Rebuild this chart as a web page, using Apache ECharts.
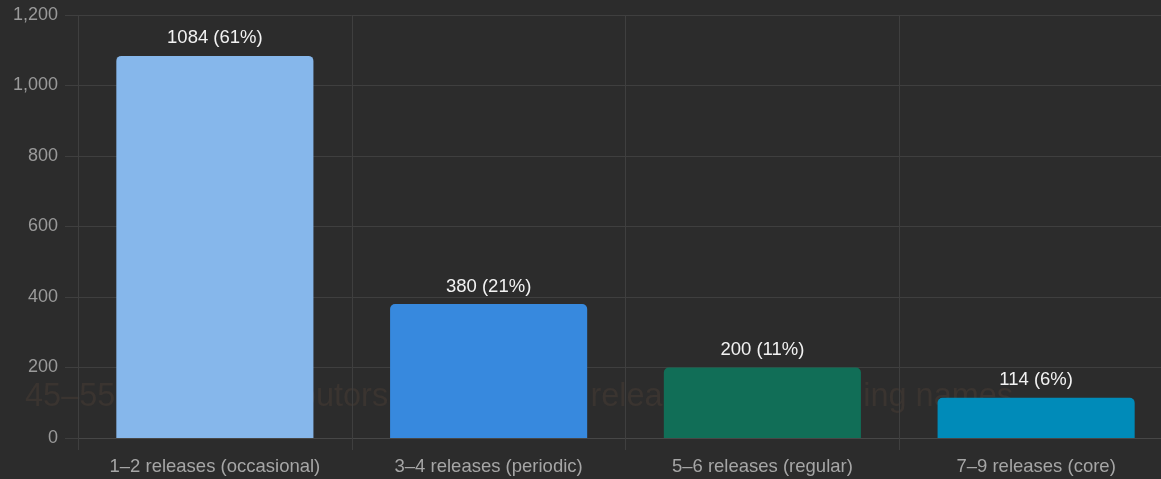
<!DOCTYPE html>
<html>
<head>
<meta charset="utf-8">
<script src="https://cdn.jsdelivr.net/npm/echarts@6/dist/echarts.min.js"></script>
<style>
html,body{margin:0;padding:0;background:#2c2c2c;overflow:hidden;width:1161px;height:479px;}
#chart{width:1173px;height:479px;}
</style>
</head>
<body>
<div id="chart"></div>
<script>
const categories = ['1–2 releases (occasional)', '3–4 releases (periodic)', '5–6 releases (regular)', '7–9 releases (core)'];
const counts = [1084, 380, 200, 114];
const barColors = ['#86b7eb', '#3789de', '#116e57', '#008bb9'];
const yTicks = { min: 0, max: 1200, interval: 200 };
const watermarkText = '45–55 active contributors across every releases, by matching names';

const total = counts.reduce((a, b) => a + b, 0);
const FONT = "'Helvetica Neue', Helvetica, Arial, 'Liberation Sans', sans-serif";

const chart = echarts.init(document.getElementById('chart'));
chart.setOption({
  backgroundColor: '#2c2c2c',
  animation: false,
  textStyle: { fontFamily: FONT },
  graphic: [{
    type: 'text',
    z: 0,
    left: 25,
    top: 381,
    style: {
      text: watermarkText,
      fill: '#3a3430',
      font: "32.5px 'Helvetica Neue', Helvetica, Arial, 'Liberation Sans', sans-serif"
    }
  }],
  grid: { left: 78, right: 0, top: 15, bottom: 41 },
  xAxis: {
    type: 'category',
    data: categories,
    axisLine: { show: true, lineStyle: { color: '#474747' } },
    axisTick: { show: true, interval: 0, length: 12, lineStyle: { color: '#3f3f3f' } },
    splitLine: { show: true, interval: 0, lineStyle: { color: '#3f3f3f' } },
    axisLabel: { interval: 0, color: '#a6a6a6', fontSize: 18.5, margin: 19, fontFamily: FONT }
  },
  yAxis: {
    type: 'value',
    min: yTicks.min, max: yTicks.max, interval: yTicks.interval,
    axisLine: { show: false },
    axisTick: { show: true, length: 13, lineStyle: { color: '#3f3f3f' } },
    splitLine: { show: true, lineStyle: { color: '#3f3f3f' } },
    axisLabel: { color: '#9a9a9a', fontSize: 18, margin: 20, fontFamily: FONT }
  },
  series: [{
    type: 'bar',
    data: counts.map((v, i) => ({ value: v, itemStyle: { color: barColors[i] } })),
    barWidth: '72%',
    itemStyle: { borderRadius: [5, 5, 0, 0] },
    label: {
      show: true,
      position: 'top',
      distance: 8,
      color: '#f2f2f2',
      fontSize: 18.5,
      fontFamily: FONT,
      formatter: p => p.value + ' (' + Math.round(p.value / total * 100) + '%)'
    }
  }]
});
</script>
</body>
</html>
